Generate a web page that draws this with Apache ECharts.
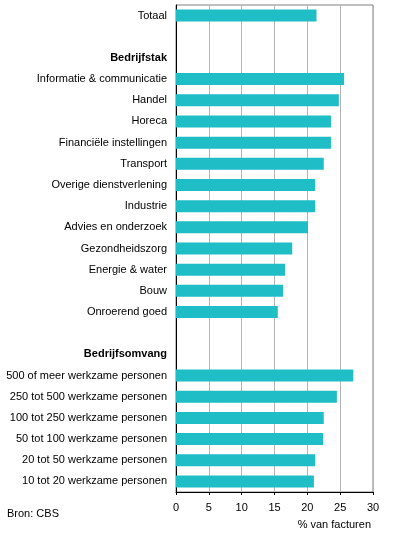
<!DOCTYPE html>
<html>
<head>
<meta charset="utf-8">
<script src="https://cdn.jsdelivr.net/npm/echarts@6/dist/echarts.min.js"></script>
<style>
  html, body { margin: 0; padding: 0; background: #fff; }
  #chart { width: 396px; height: 541px; }
</style>
</head>
<body>
<div id="chart"></div>
<script>
// categories top to bottom; headers are drawn bold, blanks are spacer rows
const categories = [
    'Totaal', '',
    'Bedrijfstak',
    'Informatie & communicatie', 'Handel', 'Horeca', 'Financiële instellingen',
    'Transport', 'Overige dienstverlening', 'Industrie', 'Advies en onderzoek',
    'Gezondheidszorg', 'Energie & water', 'Bouw', 'Onroerend goed',
    ' ',
    'Bedrijfsomvang',
    '500 of meer werkzame personen', '250 tot 500 werkzame personen',
    '100 tot 250 werkzame personen', '50 tot 100 werkzame personen',
    '20 tot 50 werkzame personen', '10 tot 20 werkzame personen'
];
const headers = ['Bedrijfstak', 'Bedrijfsomvang'];

// % van facturen
const values = [
    21.4, null,
    null,
    25.6, 24.8, 23.6, 23.6,
    22.5, 21.2, 21.2, 20.1,
    17.7, 16.6, 16.3, 15.5,
    null,
    null,
    27.0, 24.5,
    22.5, 22.4,
    21.2, 21.0
];

const xTicks = [0, 5, 10, 15, 20, 25, 30];

const chart = echarts.init(document.getElementById('chart'), null, { renderer: 'canvas' });

const font = 'Arial, "Liberation Sans", sans-serif';

chart.setOption({
    backgroundColor: '#fff',
    animation: false,
    grid: {
        left: 176, right: 23, top: 5, bottom: 49,
        show: true,
        borderColor: '#808080',
        borderWidth: 1
    },
    xAxis: {
        type: 'value',
        min: xTicks[0],
        max: xTicks[xTicks.length - 1],
        interval: 5,
        axisLine: { show: true, lineStyle: { color: '#000', width: 1 } },
        axisTick: { show: true, length: 3, lineStyle: { color: '#000' } },
        axisLabel: { color: '#000', fontSize: 11, fontFamily: font, margin: 10 },
        splitLine: { show: true, lineStyle: { color: '#b4b4b4', width: 1 } }
    },
    yAxis: {
        type: 'category',
        data: categories,
        inverse: true,
        axisLine: { show: true, onZero: false, lineStyle: { color: '#000', width: 1 } },
        axisTick: { show: false },
        axisLabel: {
            color: '#000',
            fontSize: 11,
            fontFamily: font,
            margin: 9,
            formatter: (v) => headers.includes(v) ? '{b|' + v + '}' : v,
            rich: {
                b: { fontWeight: 'bold', fontSize: 11, fontFamily: font, color: '#000' }
            }
        }
    },
    series: [{
        type: 'bar',
        data: values,
        barWidth: 12,
        itemStyle: { color: '#1fbdc6' },
        silent: true
    }],
    graphic: [
        {
            type: 'text', left: 7, top: 508,
            style: { text: 'Bron: CBS', fill: '#000', font: '11px ' + font }
        },
        {
            type: 'text', right: 25, top: 519,
            style: { text: '% van facturen', fill: '#000', font: '11px ' + font }
        }
    ]
});
</script>
</body>
</html>
